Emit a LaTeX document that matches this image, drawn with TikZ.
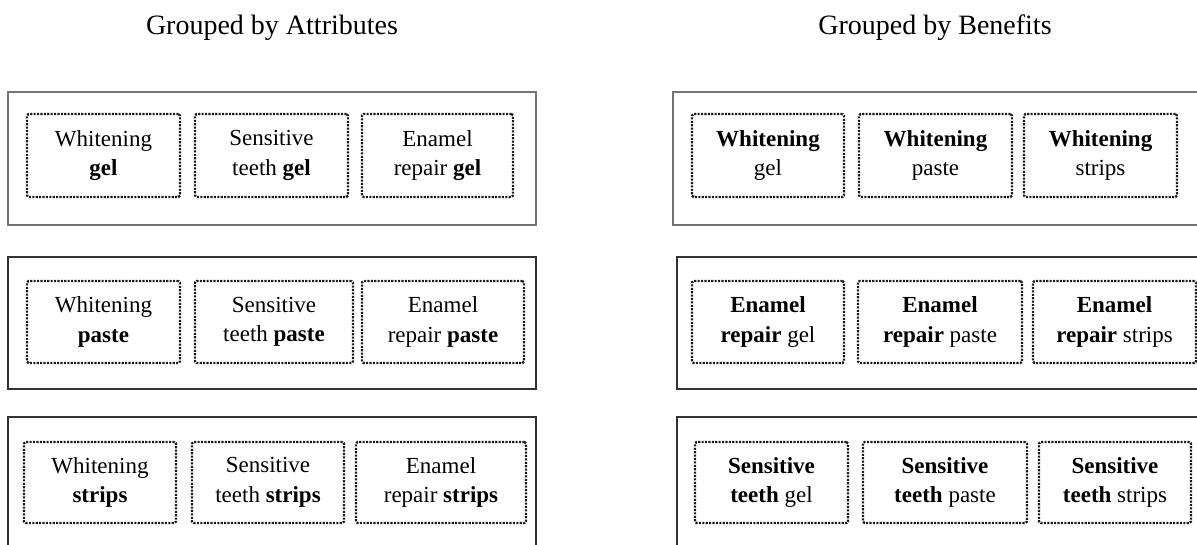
\documentclass[tikz,border=0pt]{standalone}
\usepackage{fontspec}
\setmainfont{Liberation Serif}
\tikzset{
  frame/.style={draw=black!80, line width=1.4pt},
  framelight/.style={draw=black!55, line width=1.4pt},
  cell/.style={draw=black!90, line width=2.2pt, dash pattern=on 2.1pt off 1.3pt,
    rounded corners=1.5pt, align=center, inner sep=0pt,
    font=\fontsize{23}{29.5}\selectfont},
  heading/.style={font=\fontsize{28}{32}\selectfont, anchor=base, inner sep=0pt}
}
% \cellbox{name}{x1}{y1}{x2}{y2}{text}: dotted cell spanning the given corners
\newcommand\cellbox[6]{%
  \node[cell, minimum width={(#4-#2)*1pt}, minimum height={(#5-#3)*1pt}]
    (#1) at ({(#2+#4)/2},{(#3+#5)/2}) {#6};}
\begin{document}
\begin{tikzpicture}[x=1pt,y=-1pt]
  \clip (0,0) rectangle (1197,544);
  \fill[white] (0,0) rectangle (1197,544);

  % headings
  \node[heading] (hattr) at (272,34) {Grouped by Attributes};
  \node[heading] (hben)  at (935,34) {Grouped by Benefits};

  % left panel: grouped by attributes
  \draw[framelight] (8,92) rectangle (536,225);
  \draw[frame] (8,257) rectangle (536,389);
  \draw[frame] (8,417) rectangle (536,570);

  \cellbox{a11}{27}{114}{180}{197}{Whitening\\\textbf{gel}}
  \cellbox{a12}{195}{114}{348}{197}{Sensitive\\teeth \textbf{gel}}
  \cellbox{a13}{362}{114}{513}{197}{Enamel\\repair \textbf{gel}}

  \cellbox{a21}{27}{281}{180}{363}{Whitening\\\textbf{paste}}
  \cellbox{a22}{195}{281}{353}{363}{Sensitive\\teeth \textbf{paste}}
  \cellbox{a23}{362}{281}{524}{363}{Enamel\\repair \textbf{paste}}

  \cellbox{a31}{24}{442}{176}{523}{Whitening\\\textbf{strips}}
  \cellbox{a32}{192}{442}{344}{523}{Sensitive\\teeth \textbf{strips}}
  \cellbox{a33}{356}{442}{526}{523}{Enamel\\repair \textbf{strips}}

  % right panel: grouped by benefits
  \draw[framelight] (673,92) rectangle (1220,225);
  \draw[frame] (677,257) rectangle (1220,389);
  \draw[frame] (677,417) rectangle (1220,570);

  \cellbox{b11}{692}{114}{844}{197}{\textbf{Whitening}\\gel}
  \cellbox{b12}{859}{114}{1012}{197}{\textbf{Whitening}\\paste}
  \cellbox{b13}{1024}{114}{1177}{197}{\textbf{Whitening}\\strips}

  \cellbox{b21}{692}{281}{844}{363}{\textbf{Enamel}\\\textbf{repair} gel}
  \cellbox{b22}{858}{281}{1022}{363}{\textbf{Enamel}\\\textbf{repair} paste}
  \cellbox{b23}{1033}{281}{1196}{363}{\textbf{Enamel}\\\textbf{repair} strips}

  \cellbox{b31}{695}{442}{848}{523}{\textbf{Sensitive}\\\textbf{teeth} gel}
  \cellbox{b32}{863}{442}{1027}{523}{\textbf{Sensitive}\\\textbf{teeth} paste}
  \cellbox{b33}{1039}{442}{1191}{523}{\textbf{Sensitive}\\\textbf{teeth} strips}
\end{tikzpicture}
\end{document}
